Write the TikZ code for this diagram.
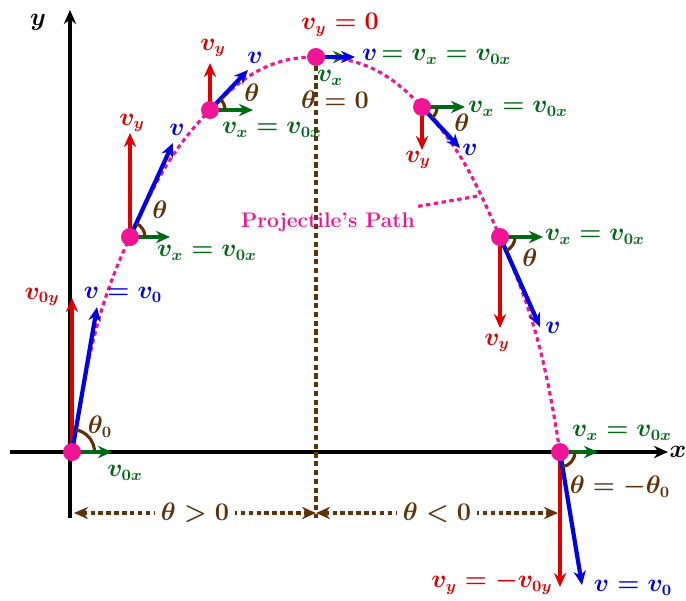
\documentclass[tikz,border=0pt]{standalone}
\usepackage{amsmath}
\usepackage{amssymb}
\usetikzlibrary{arrows.meta}

\definecolor{pathpink}{RGB}{240,20,150}
\definecolor{vred}{RGB}{220,0,0}
\definecolor{vblue}{RGB}{0,0,225}
\definecolor{vgreen}{RGB}{0,105,20}
\definecolor{abrown}{RGB}{95,50,10}

\begin{document}
\begin{tikzpicture}[>={Stealth[length=8pt,width=7pt]}, font=\fontsize{13.5}{16}\selectfont\boldmath,
    axis/.style={->, line width=2.4pt, black},
    traj/.style={line width=1.8pt, pathpink, dash pattern=on 2.5pt off 2pt},
    vy/.style={->, line width=2pt, vred},
    vv/.style={->, line width=2.4pt, vblue},
    vx/.style={->, line width=2.4pt, vgreen},
    ang/.style={line width=1.8pt, abrown},
    rng/.style={<->, line width=1.8pt, abrown, dash pattern=on 2.5pt off 2pt},
    pt/.style={circle, fill=pathpink, inner sep=0pt, minimum size=0.36cm}]

    \useasboundingbox (-1.44,-2.96) rectangle (12.28,9.04);

    % Axes
    \coordinate (xl) at (-1.24,0);
    \coordinate (xr) at (11.92,0);
    \coordinate (yb) at (-0.04,-1.32);
    \coordinate (yt) at (-0.04,8.84);
    \draw[axis] (xl) -- (xr);
    \draw[axis] (yb) -- (yt);
    \node (xlbl) at (12.12,0) {$x$};
    \node (ylbl) at (-0.68,8.6) {$y$};

    % Points on the path
    \coordinate (P0) at (0,0);
    \coordinate (P1) at (1.16,4.30);
    \coordinate (P2) at (2.76,6.84);
    \coordinate (P3) at (4.88,7.90);
    \coordinate (P4) at (7.00,6.90);
    \coordinate (P5) at (8.56,4.30);
    \coordinate (P6) at (9.76,0);

    % Line below the top
    \coordinate (mid) at (4.88,-1.32);
    \draw[line width=2pt, abrown, dash pattern=on 3pt off 2pt] (P3) -- (mid);

    % Ranges of theta
    \coordinate (r0) at (0.04,-1.22);
    \coordinate (r1) at (4.88,-1.22);
    \coordinate (r2) at (9.72,-1.22);
    \draw[rng] (r0) -- node[fill=white, text=abrown] (up) {$\theta > 0$} (r1);
    \draw[rng] (r1) -- node[fill=white, text=abrown] (down) {$\theta < 0$} (r2);

    % Projectile's path
    \draw[traj] (P0) to[out=80,in=-115] (P1) to[out=65,in=-134] (P2)
        to[out=46,in=180] (P3) to[out=0,in=133] (P4)
        to[out=-47,in=114] (P5) to[out=-66,in=99] (P6);
    \node[pathpink, font=\large\bfseries] (plbl) at (5.12,4.60) {Projectile's Path};
    \coordinate (onpath) at (8.12,5.12);
    \draw[traj] (plbl) -- (onpath);

    % Launch point
    \coordinate (v0y) at (0,3.08);
    \coordinate (v0) at (0.50,2.90);
    \coordinate (v0x) at (0.80,0);
    \draw[vy] (P0) -- (v0y);
    \draw[vv] (P0) -- (v0);
    \draw[vx] (P0) -- (v0x);
    \draw[ang] (P0) ++(0:0.45) arc[start angle=0, end angle=80, radius=0.45];
    \node[vred] (l0y) at (-0.60,3.10) {$v_{0y}$};
    \node[vblue] (l0) at (1.02,3.14) {$v = v_0$};
    \node[vgreen] (l0x) at (1.06,-0.42) {$v_{0x}$};
    \node[abrown] (a0) at (0.56,0.50) {$\theta_0$};

    % Rising, first point
    \coordinate (v1y) at (1.16,6.38);
    \coordinate (v1) at (2.02,6.18);
    \coordinate (v1x) at (1.96,4.30);
    \draw[vy] (P1) -- (v1y);
    \draw[vv] (P1) -- (v1);
    \draw[vx] (P1) -- (v1x);
    \draw[ang] (P1) ++(0:0.3) arc[start angle=0, end angle=65, radius=0.3];
    \node[vred] (l1y) at (1.20,6.58) {$v_y$};
    \node[vblue] (l1) at (2.10,6.44) {$v$};
    \node[vgreen] (l1x) at (2.70,3.98) {$v_x = v_{0x}$};
    \node[abrown] (a1) at (1.76,4.84) {$\theta$};

    % Rising, second point
    \coordinate (v2y) at (2.76,7.78);
    \coordinate (v2) at (3.52,7.64);
    \coordinate (v2x) at (3.62,6.84);
    \draw[vy] (P2) -- (v2y);
    \draw[vv] (P2) -- (v2);
    \draw[vx] (P2) -- (v2x);
    \draw[ang] (P2) ++(0:0.3) arc[start angle=0, end angle=46, radius=0.3];
    \node[vred] (l2y) at (2.82,8.08) {$v_y$};
    \node[vblue] (l2) at (3.66,7.88) {$v$};
    \node[vgreen] (l2x) at (4.00,6.44) {$v_x = v_{0x}$};
    \node[abrown] (a2) at (3.60,7.18) {$\theta$};

    % Top
    \coordinate (v3x) at (5.50,7.90);
    \coordinate (v3) at (5.66,7.90);
    \draw[vx] (P3) -- (v3x);
    \draw[vv] (P3) -- (v3);
    \node[vred] (l3y) at (5.36,8.54) {$v_y = 0$};
    \node[anchor=west] (l3) at (5.68,7.90) {\color{vblue}$v$\,\color{vgreen}$= v_x = v_{0x}$};
    \node[vgreen] (l3x) at (5.16,7.48) {$v_x$};
    \node[abrown] (a3) at (5.26,7.04) {$\theta = 0$};

    % Falling, first point
    \coordinate (v4y) at (7.00,6.04);
    \coordinate (v4) at (7.76,6.08);
    \coordinate (v4x) at (7.86,6.90);
    \draw[vy] (P4) -- (v4y);
    \draw[vv] (P4) -- (v4);
    \draw[vx] (P4) -- (v4x);
    \draw[ang] (P4) ++(0:0.3) arc[start angle=0, end angle=-47, radius=0.3];
    \node[vred] (l4y) at (6.92,5.84) {$v_y$};
    \node[vblue] (l4) at (7.96,6.04) {$v$};
    \node[vgreen] (l4x) at (8.92,6.86) {$v_x = v_{0x}$};
    \node[abrown] (a4) at (7.80,6.58) {$\theta$};

    % Falling, second point
    \coordinate (v5y) at (8.56,2.48);
    \coordinate (v5) at (9.36,2.50);
    \coordinate (v5x) at (9.42,4.30);
    \draw[vy] (P5) -- (v5y);
    \draw[vv] (P5) -- (v5);
    \draw[vx] (P5) -- (v5x);
    \draw[ang] (P5) ++(0:0.3) arc[start angle=0, end angle=-66, radius=0.3];
    \node[vred] (l5y) at (8.50,2.18) {$v_y$};
    \node[vblue] (l5) at (9.62,2.48) {$v$};
    \node[vgreen] (l5x) at (10.46,4.30) {$v_x = v_{0x}$};
    \node[abrown] (a5) at (9.16,3.88) {$\theta$};

    % Landing point
    \coordinate (v6y) at (9.76,-2.70);
    \coordinate (v6) at (10.20,-2.66);
    \coordinate (v6x) at (10.52,0);
    \draw[vy] (P6) -- (v6y);
    \draw[vv] (P6) -- (v6);
    \draw[vx] (P6) -- (v6x);
    \draw[ang] (P6) ++(0:0.3) arc[start angle=0, end angle=-81, radius=0.3];
    \node[vgreen] (l6x) at (11.0,0.38) {$v_x = v_{0x}$};
    \node[abrown] (a6) at (10.96,-0.70) {$\theta = -\theta_0$};
    \node[vred] (l6y) at (8.40,-2.62) {$v_y = -v_{0y}$};
    \node[vblue] (l6) at (11.22,-2.72) {$v = v_0$};

    % Marked points
    \foreach \p in {P0,P1,P2,P3,P4,P5,P6}
        \node[pt] (c\p) at (\p) {};

\end{tikzpicture}
\end{document}
